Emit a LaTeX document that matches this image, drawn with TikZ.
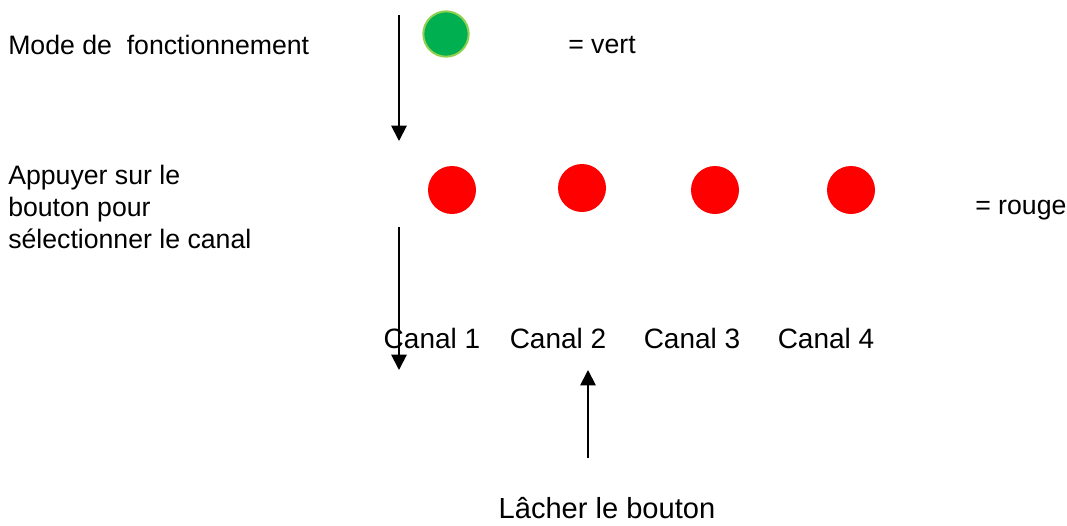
\documentclass[tikz,border=0pt]{standalone}
\usepackage{fontspec}
\setmainfont{Liberation Sans}
\usetikzlibrary{arrows.meta}
\definecolor{ledgreen}{HTML}{00B050}
\definecolor{ledrim}{HTML}{92D050}
\tikzset{
  txt/.style={anchor=west, inner sep=0pt, font=\fontsize{20pt}{24pt}\selectfont},
  canal/.style={inner sep=0pt, font=\fontsize{21pt}{25pt}\selectfont},
  led/.style={circle, inner sep=0pt, minimum size=36pt},
  flow/.style={line width=1.4pt, -{Triangle[width=11.5pt,length=11.5pt]}}
}
\begin{document}
\begin{tikzpicture}[x=0.75pt, y=-0.75pt]
\useasboundingbox (0,0) rectangle (1067,525);
% left texts
\node [txt] (mode) at (8,45) {Mode de \ fonctionnement};
\node [txt, align=left] (appui) at (8,207) {Appuyer sur le\\bouton pour\\sélectionner le canal};
% leds
\node [led, fill=ledgreen, draw=ledrim, line width=1.5pt, minimum size=34pt] (vert) at (446,34) {};
\node [txt] (vertlbl) at (568,45) {= vert};
\node [led, fill=red] (led1) at (452,190) {};
\node [led, fill=red] (led2) at (582,188) {};
\node [led, fill=red] (led3) at (715,190) {};
\node [led, fill=red] (led4) at (851,190) {};
\node [txt] (rougelbl) at (975,210) {= rouge};
% canals
\node [canal] (c1) at (432,338) {Canal 1};
\node [canal] (c2) at (558,338) {Canal 2};
\node [canal] (c3) at (692,338) {Canal 3};
\node [canal] (c4) at (826,338) {Canal 4};
\node [canal, font=\fontsize{21.8pt}{26pt}\selectfont] (lacher) at (607,508) {Lâcher le bouton};
% arrows
\coordinate (a1) at (399,15);
\coordinate (b1) at (399,141);
\coordinate (a2) at (399,227);
\coordinate (b2) at (399,370);
\coordinate (a3) at (588,458);
\coordinate (b3) at (588,370);
\draw [flow] (a1) -- (b1);
\draw [flow] (a2) -- (b2);
\draw [flow] (a3) -- (b3);
\end{tikzpicture}
\end{document}
